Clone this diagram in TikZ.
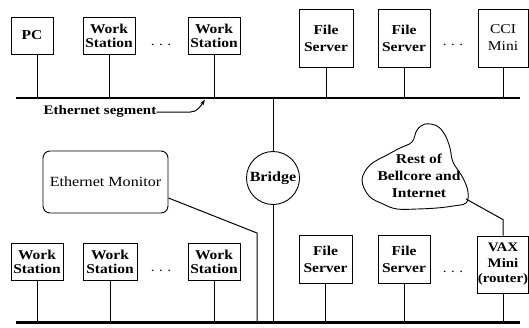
\documentclass[tikz,border=0pt]{standalone}
\usepackage{fontspec}
\setmainfont{Liberation Serif}[FakeStretch=1.15]
\usetikzlibrary{arrows.meta}

\tikzset{
  host/.style={draw, line width=0.9pt, inner sep=0pt, align=center,
    font=\fontsize{13.5}{14}\selectfont\bfseries},
  tallhost/.style={host, font=\fontsize{13.5}{17}\selectfont\bfseries},
  router/.style={host, font=\fontsize{13}{15.5}\selectfont\bfseries},
  drop/.style={line width=1pt},
  bus/.style={line width=2.6pt},
  wire/.style={line width=1pt},
  dots/.style={anchor=base, inner sep=0pt, font=\fontsize{13}{14}\selectfont},
  monitor/.style={draw, line width=0.9pt, rounded corners=7pt, inner sep=0pt,
    minimum width=125pt, minimum height=62pt, font=\fontsize{14}{16}\selectfont},
  bridgenode/.style={draw, circle, line width=0.9pt, inner sep=0pt,
    minimum size=53pt, font=\fontsize{14}{15}\selectfont\bfseries},
  cloudtext/.style={align=center, inner sep=0pt,
    font=\fontsize{13.5}{17}\selectfont\bfseries},
}

\begin{document}
\begin{tikzpicture}[x=1pt, y=-1pt]
\useasboundingbox (0,0) rectangle (529,327);

% the two Ethernet segments
\coordinate (topL) at (16,98);
\coordinate (topR) at (520,98);
\coordinate (botL) at (16,322.5);
\coordinate (botR) at (520,322.5);
\draw[bus] (topL) -- (topR);
\draw[bus] (botL) -- (botR);

% hosts on the upper segment
\node[host, minimum width=42pt, minimum height=37pt] (pc) at (32,35.5) {PC};
\node[host, minimum width=52pt, minimum height=37pt] (ws1) at (109,35.5) {Work\\Station};
\node[host, minimum width=52pt, minimum height=37pt] (ws2) at (214,35.5) {Work\\Station};
\node[tallhost, minimum width=54pt, minimum height=58pt] (fs1) at (326,38) {File\\Server};
\node[tallhost, minimum width=52pt, minimum height=58pt] (fs2) at (404,38) {File\\Server};
\node[tallhost, minimum width=50pt, minimum height=58pt, font=\fontsize{13.5}{17}\selectfont] (cci) at (503,38) {CCI\\Mini};
\node[dots] (dt1) at (161,45) {.\hspace{4.5pt}.\hspace{4.5pt}.};
\node[dots] (dt2) at (453,45) {.\hspace{4.5pt}.\hspace{4.5pt}.};

\draw[drop] ([xshift=5pt]pc.south) -- ([xshift=5pt]pc.south |- topL);
\foreach \h in {ws1,ws2,fs1,fs2,cci}
  \draw[drop] (\h.south) -- (\h.south |- topL);

% label pointing at the upper segment
\node[inner sep=0pt, font=\fontsize{13}{14}\selectfont\bfseries] (seg) at (100,111) {Ethernet segment};
\coordinate (segtip) at (205,99.5);
\draw[wire, -{Stealth[length=6pt, width=4pt]}] ([yshift=-1pt]seg.east) -- ([xshift=34pt, yshift=-1pt]seg.east)
  .. controls +(7,0) and +(-4,6) .. (segtip);

% bridge joining the segments
\node[bridgenode] (bridge) at (273,178) {Bridge};
\draw[drop] (bridge.north) -- (bridge.north |- topL);
\draw[drop] (bridge.south) -- (bridge.south |- botL);

% monitor tapping the lower segment
\node[monitor] (mon) at (105.5,182) {Ethernet Monitor};
\coordinate (montap) at (257,322.5);
\draw[wire] ([yshift=-16pt]mon.east) -- (montap |- 0,233) -- (montap);

% hosts on the lower segment
\node[host, minimum width=52pt, minimum height=37pt] (bws1) at (37,261.5) {Work\\Station};
\node[host, minimum width=54pt, minimum height=37pt] (bws2) at (110,261.5) {Work\\Station};
\node[host, minimum width=52pt, minimum height=37pt] (bws3) at (214,261.5) {Work\\Station};
\node[tallhost, minimum width=53pt, minimum height=48pt] (bfs1) at (325.5,259) {File\\Server};
\node[tallhost, minimum width=52pt, minimum height=48pt] (bfs2) at (404,259) {File\\Server};
\node[router, minimum width=50pt, minimum height=57pt] (vax) at (503,264.5) {VAX\\Mini\\(router)};
\node[dots] (dt3) at (161,271) {.\hspace{4.5pt}.\hspace{4.5pt}.};
\node[dots] (dt4) at (453,272) {.\hspace{4.5pt}.\hspace{4.5pt}.};

\foreach \h in {bws1,bws2,bws3,bfs1,bfs2,vax}
  \draw[drop] (\h.south) -- (\h.south |- botL);

% outside network
\draw[line width=0.9pt] plot[smooth cycle, tension=0.6] coordinates {
  (362,180) (370,165) (387,155) (400,148) (412,142) (417,130) (425,124)
  (437,126) (445,135) (450,148) (453,162) (463,178) (468,192) (466,203)
  (453,206) (437,208) (417,209) (397,209) (383,204) (369,196)};
\node[cloudtext] (cloud) at (419,176) {Rest of\\Bellcore and\\Internet};
\coordinate (cloudexit) at (466,199);
\draw[wire] (cloudexit) -- ([yshift=16pt]vax.north) -- (vax.north);
\end{tikzpicture}
\end{document}
